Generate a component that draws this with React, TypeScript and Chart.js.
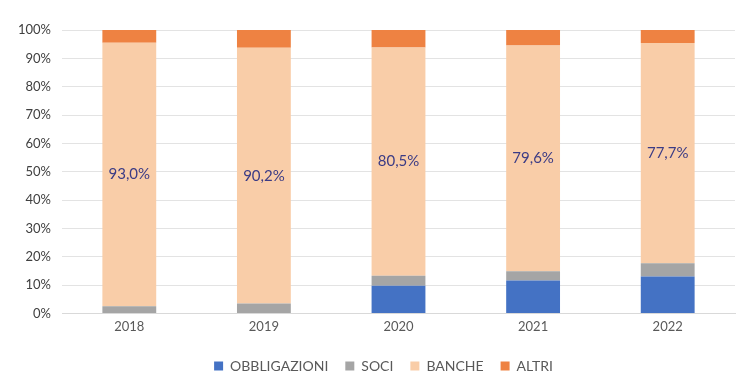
import React, { useEffect, useRef } from "react";
import { Chart, registerables } from "chart.js";

Chart.register(...registerables);

const categories = ["2018", "2019", "2020", "2021", "2022"];
const obbligazioni = [0, 0, 9.8, 11.6, 13.0];
const soci = [2.5, 3.5, 3.5, 3.3, 4.7];
const banche = [93.0, 90.2, 80.5, 79.6, 77.7];
const altri = [4.5, 6.3, 6.2, 5.5, 4.6];
const bancheLabels = ["93,0%", "90,2%", "80,5%", "79,6%", "77,7%"];
const yTicks = ["0%", "10%", "20%", "30%", "40%", "50%", "60%", "70%", "80%", "90%", "100%"];

const FONT = "Lato, 'Open Sans', sans-serif";

const labelPlugin = {
  id: "bancheLabels",
  afterLayout(chart: any) {
    if (chart.legend) {
      chart.legend.left += 16;
      chart.legend.right += 16;
    }
  },
  afterDatasetsDraw(chart: any) {
    const meta = chart.getDatasetMeta(2);
    const ctx = chart.ctx;
    ctx.save();
    ctx.fillStyle = "#3B3B85";
    ctx.font = `15px ${FONT}`;
    ctx.textAlign = "center";
    ctx.textBaseline = "middle";
    meta.data.forEach((bar: any, i: number) => {
      const p = bar.getProps(["x", "y", "base"], true);
      ctx.fillText(bancheLabels[i], p.x, (p.y + p.base) / 2);
    });
    ctx.restore();
  },
};

export default function App() {
  const ref = useRef<HTMLCanvasElement>(null);
  useEffect(() => {
    document.body.style.margin = "0";
    const chart = new Chart(ref.current!, {
      type: "bar",
      data: {
        labels: categories,
        datasets: [
          { label: "OBBLIGAZIONI", data: obbligazioni, backgroundColor: "#4472C4" },
          { label: "SOCI", data: soci, backgroundColor: "#A5A5A5" },
          { label: "BANCHE", data: banche, backgroundColor: "#F9CDA8" },
          { label: "ALTRI", data: altri, backgroundColor: "#EE8242" },
        ],
      },
      options: {
        responsive: false,
        animation: false,
        devicePixelRatio: 1,
        layout: { padding: { top: 30, right: 17, bottom: 4, left: 0 } },
        datasets: { bar: { categoryPercentage: 1, barPercentage: 0.4 } },
        scales: {
          x: {
            stacked: true,
            afterFit: (s: any) => { s.height += 1; },
            grid: { display: false, drawTicks: false },
            border: { display: true, color: "#D9D9D9" },
            ticks: { color: "#595959", font: { family: FONT, size: 13 }, padding: 6 },
          },
          y: {
            stacked: true,
            min: 0,
            max: 100,
            afterFit: (s: any) => { s.width = 62; },
            grid: { color: "#E3E3E3", drawTicks: false },
            border: { display: false },
            ticks: {
              stepSize: 10,
              padding: 11,
              color: "#404040",
              font: { family: FONT, size: 13 },
              callback: (v: any) => yTicks[Math.round(Number(v) / 10)],
            },
          },
        },
        plugins: {
          legend: {
            position: "bottom",
            labels: {
              boxWidth: 9,
              boxHeight: 9,
              padding: 17,
              color: "#595959",
              font: { family: FONT, size: 14 },
            },
          },
          tooltip: { enabled: false },
        },
      },
      plugins: [labelPlugin],
    });
    return () => chart.destroy();
  }, []);
  return (
    <div style={{ position: "absolute", left: 0, top: 0, width: 752, height: 387 }}>
      <canvas ref={ref} width={752} height={387} />
    </div>
  );
}
